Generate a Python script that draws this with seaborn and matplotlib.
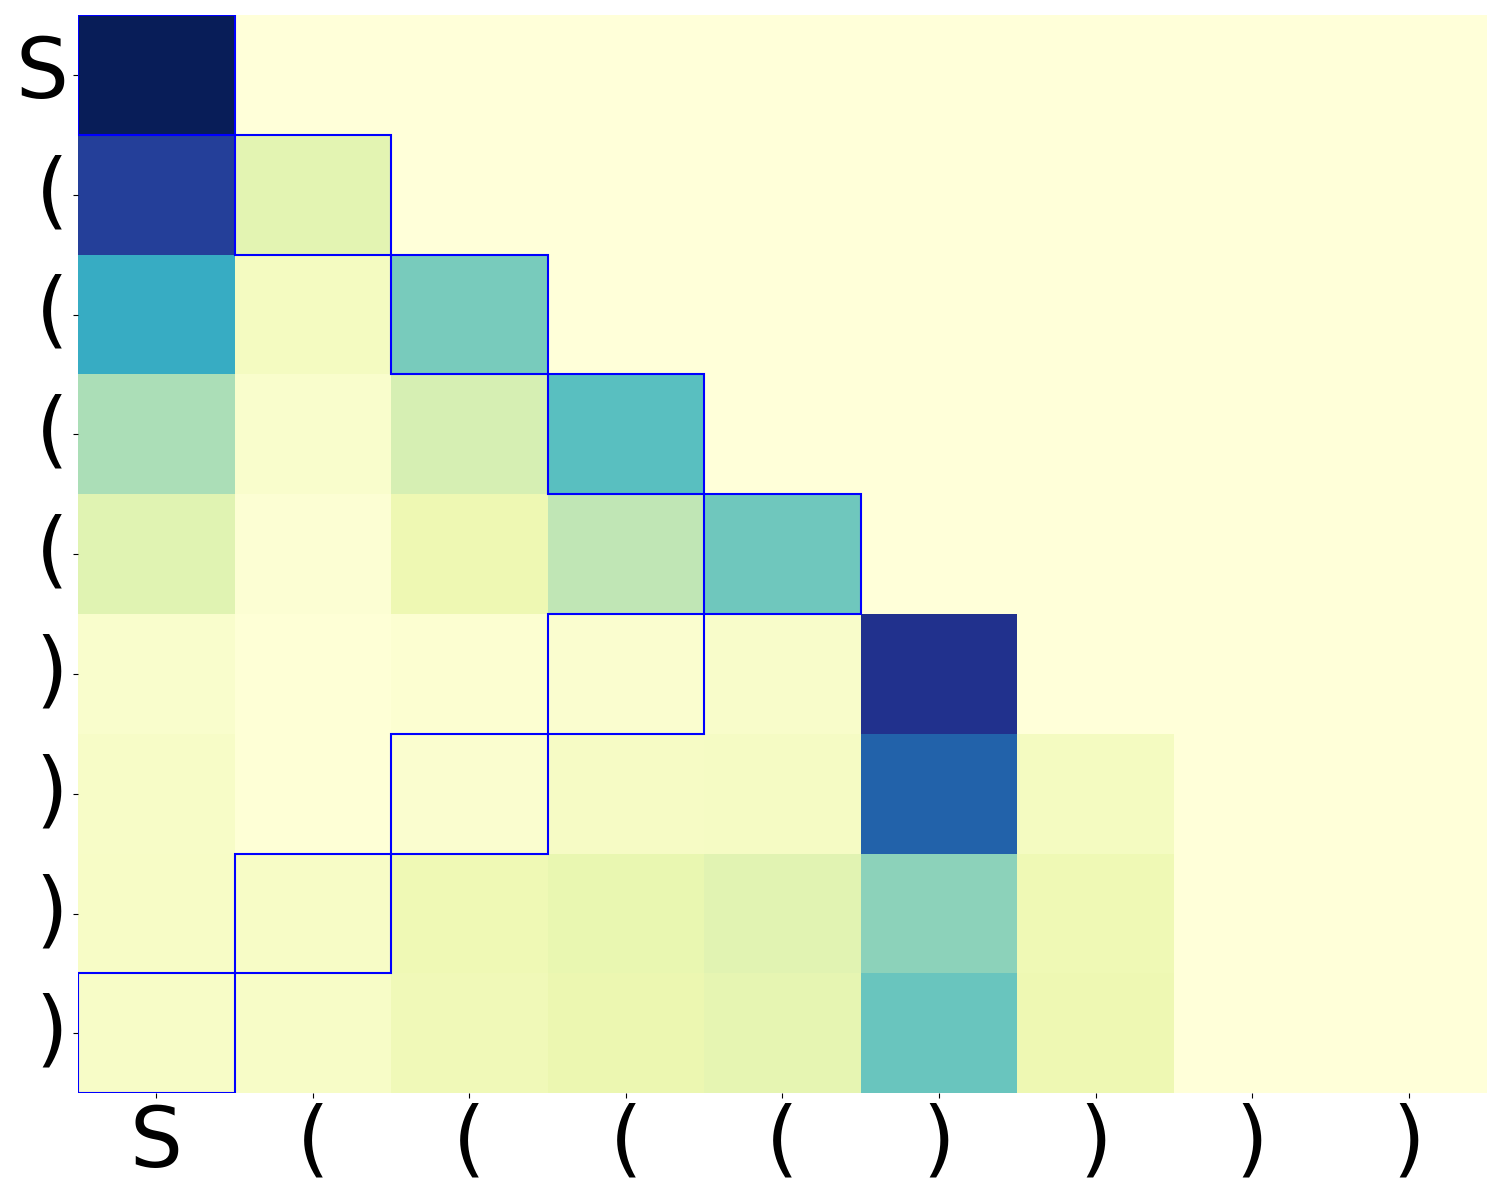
import matplotlib
matplotlib.use("Agg")
import matplotlib.pyplot as plt
import matplotlib.patches as patches
import seaborn as sns
import numpy as np

# tokens of the sequence (rows = queries, cols = keys)
tokens = ["S", "(", "(", "(", "(", ")", ")", ")", ")"]

# attention weights per query row
row_0 = [1.00, 0, 0, 0, 0, 0, 0, 0, 0]
row_1 = [0.84, 0.16, 0, 0, 0, 0, 0, 0, 0]
row_2 = [0.535, 0.075, 0.39, 0, 0, 0, 0, 0, 0]
row_3 = [0.30, 0.04, 0.20, 0.45, 0, 0, 0, 0, 0]
row_4 = [0.17, 0.02, 0.12, 0.265, 0.41, 0, 0, 0, 0]
row_5 = [0.04, 0.01, 0.025, 0.035, 0.05, 0.89, 0, 0, 0]
row_6 = [0.055, 0.01, 0.035, 0.065, 0.07, 0.74, 0.075, 0, 0]
row_7 = [0.06, 0.06, 0.115, 0.14, 0.165, 0.355, 0.115, 0, 0]
row_8 = [0.055, 0.055, 0.105, 0.13, 0.15, 0.42, 0.12, 0, 0]

# column outlined in each row (matching position)
highlight_cols = [0, 1, 2, 3, 4, 3, 2, 1, 0]

weights = np.array([row_0, row_1, row_2, row_3, row_4,
                    row_5, row_6, row_7, row_8])

fig, ax = plt.subplots(figsize=(15, 12), dpi=100)
sns.heatmap(weights, cmap="YlGnBu", vmin=0, vmax=1, cbar=False,
            xticklabels=tokens, yticklabels=tokens, ax=ax)

for r, c in enumerate(highlight_cols):
    ax.add_patch(patches.Rectangle((c, r), 1, 1, fill=False,
                                   edgecolor="blue", lw=1.5, zorder=3))

ax.tick_params(axis="both", labelsize=60)
ax.tick_params(axis="y", labelrotation=0)
ax.tick_params(axis="x", labelrotation=0)

plt.subplots_adjust(left=0.052, right=0.9913, top=0.9875, bottom=0.089)
plt.savefig("out.png")
